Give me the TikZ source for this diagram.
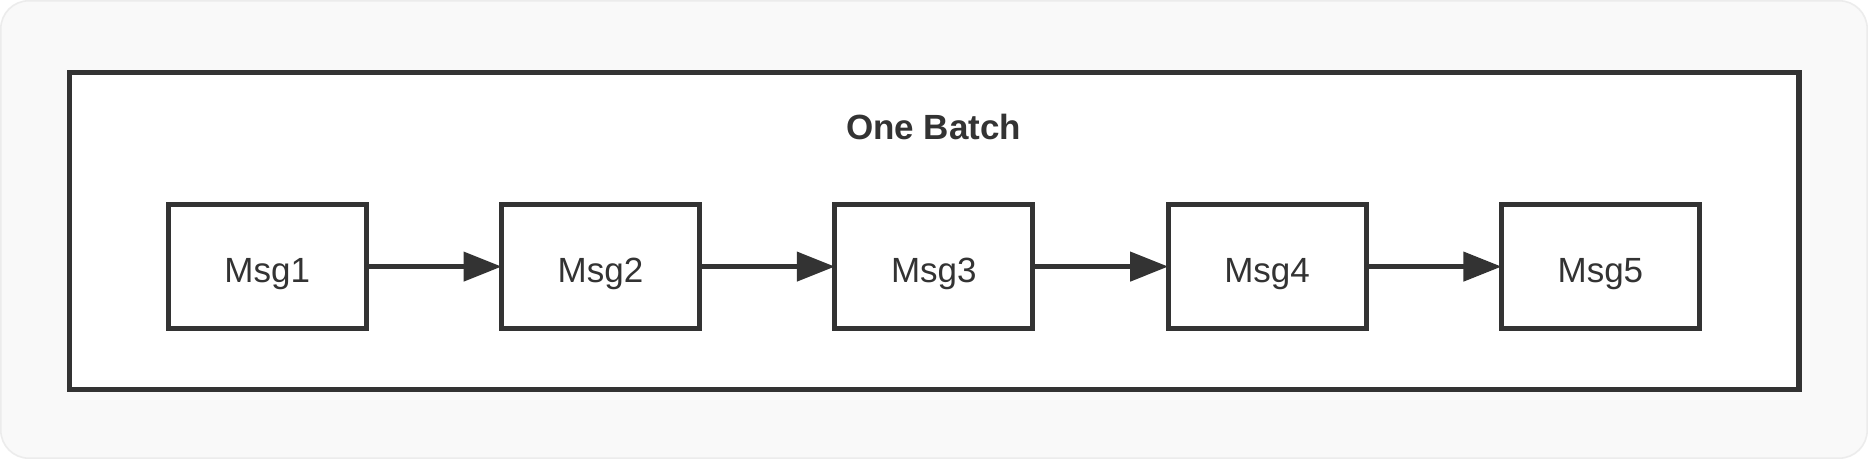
\documentclass[tikz,border=0pt]{standalone}
\usepackage{fontspec}
\setmainfont{Liberation Sans}
\usetikzlibrary{positioning,arrows.meta}
\definecolor{ink}{HTML}{333333}
\definecolor{paper}{HTML}{F9F9F9}
\definecolor{rim}{HTML}{ECECEC}
\tikzset{
  msg/.style={rectangle, draw=ink, line width=2.6pt, fill=white, outer sep=0pt,
    inner sep=0pt, minimum width=99pt, minimum height=62pt,
    text height=20pt, text depth=3.6pt, text=ink, font=\fontsize{17.5pt}{20pt}\selectfont},
  link/.style={draw=ink, line width=2.2pt, -{Triangle[length=19pt,width=14.5pt]}},
}
\begin{document}
\begin{tikzpicture}[x=1pt,y=1pt]
\useasboundingbox (0,0) rectangle (934,229.5);
\fill[white] (0,0) rectangle (934,229.5);
\draw[rim, fill=paper, line width=0.8pt, rounded corners=14pt] (0.4,0.4) rectangle (933.6,229.1);
\node [draw=ink, line width=2.6pt, fill=white, inner sep=0pt, minimum width=864.9pt, minimum height=158.4pt] (batch) at (467.05,114.1) {};
\node [anchor=base, text=ink, font=\bfseries\fontsize{17.5pt}{20pt}\selectfont] (title) at (466.8,159.5) {One Batch};
\node [msg] (m1) at (133.6,96.2) {Msg1};
\node [msg, right=67.65pt of m1] (m2) {Msg2};
\node [msg, right=67.65pt of m2] (m3) {Msg3};
\node [msg, right=67.65pt of m3] (m4) {Msg4};
\node [msg, right=67.65pt of m4] (m5) {Msg5};
\draw [link] (m1) -- (m2);
\draw [link] (m2) -- (m3);
\draw [link] (m3) -- (m4);
\draw [link] (m4) -- (m5);
\end{tikzpicture}
\end{document}
